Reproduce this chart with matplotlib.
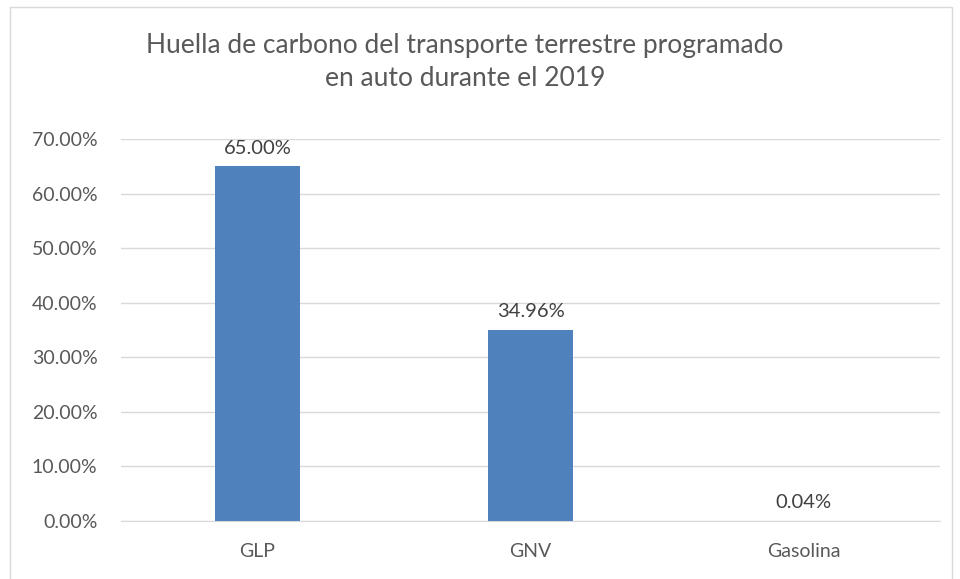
import matplotlib
matplotlib.use("Agg")
import matplotlib.pyplot as plt
import matplotlib.ticker as mticker
from matplotlib.patches import Rectangle

categories = ["GLP", "GNV", "Gasolina"]
shares = [65.00, 34.96, 0.04]
yticks = [0, 10, 20, 30, 40, 50, 60, 70]

plt.rcParams["font.family"] = ["Lato", "DejaVu Sans"]

W, H = 960, 579
fig = plt.figure(figsize=(W / 100, H / 100), dpi=100)
ax = fig.add_axes([121 / W, 1 - 521 / H, (940 - 121) / W, (521 - 139) / H])

x = range(len(categories))
ax.bar(x, shares, width=0.31, color="#4F81BD", zorder=3)
for xi, v in zip(x, shares):
    ax.annotate(f"{v:.2f}%", (xi, v), xytext=(0, 7), textcoords="offset points",
                ha="center", va="bottom", fontsize=14.5, color="#404040")

ax.set_xlim(-0.5, len(categories) - 0.5)
ax.set_ylim(0, 70)
ax.set_yticks(yticks)
ax.yaxis.set_major_formatter(mticker.FuncFormatter(lambda v, _: f"{v:.2f}%"))
ax.set_xticks(list(x))
ax.set_xticklabels(categories)
ax.tick_params(axis="both", length=0, labelsize=14, colors="#595959")
ax.tick_params(axis="y", pad=17)
ax.tick_params(axis="x", pad=16)
ax.grid(axis="y", color="#D9D9D9", linewidth=1, zorder=0)
for s in ["top", "right", "left"]:
    ax.spines[s].set_visible(False)
ax.spines["bottom"].set_color("#D9D9D9")

fig.text(465 / W, 1 - 62 / H, "Huella de carbono del transporte terrestre programado\nen auto durante el 2019",
         ha="center", va="center", fontsize=19, color="#595959", linespacing=1.38)

fig.patches.append(Rectangle((10 / W, -0.1), (952 - 10) / W, 1.1 - 7 / H,
                             transform=fig.transFigure, fill=False,
                             edgecolor="#D9D9D9", linewidth=1))

fig.savefig("out.png", dpi=100)
